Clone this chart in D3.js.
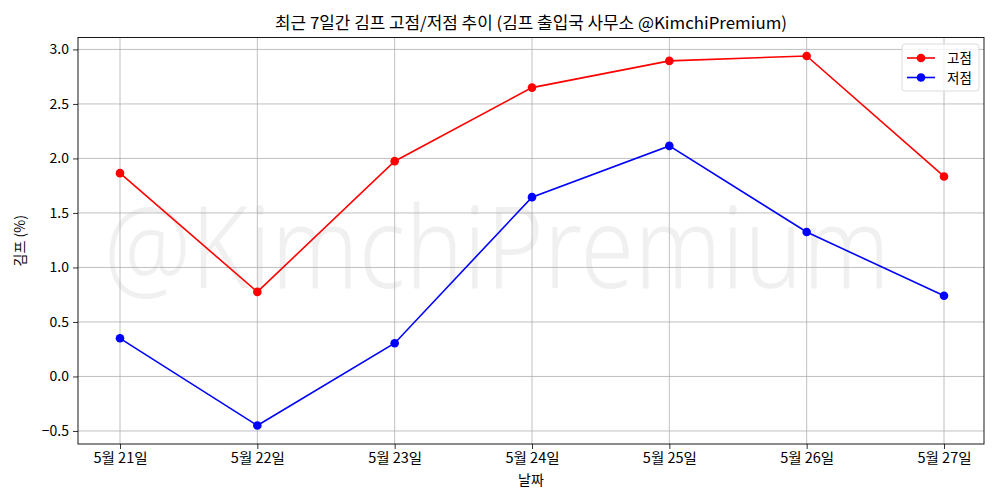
<!DOCTYPE html>
<html><head><meta charset="utf-8">
<script src="https://cdn.jsdelivr.net/npm/d3@7/dist/d3.min.js"></script>
<style>
body{margin:0;background:#fff;}
text{font-family:"Noto Sans CJK KR","Noto Sans",sans-serif;}
</style></head>
<body><svg id="c" width="1000" height="500"></svg>
<script>
const dates = ["5월 21일","5월 22일","5월 23일","5월 24일","5월 25일","5월 26일","5월 27일"];
const highs = [1.865, 0.776, 1.975, 2.65, 2.895, 2.94, 1.835];
const lows  = [0.35, -0.45, 0.305, 1.645, 2.115, 1.325, 0.74];
const yTicks = [-0.5, 0.0, 0.5, 1.0, 1.5, 2.0, 2.5, 3.0];
const seriesNames = ["고점","저점"];
const seriesColors = ["#ff0000","#0000ff"];
const title = "최근 7일간 김프 고점/저점 추이 (김프 출입국 사무소 @KimchiPremium)";
const watermark = "@KimchiPremium";

const svg = d3.select("#c");
const L=78, R=984, T=37.5, B=444;
const allV = highs.concat(lows);
const mn = d3.min(allV), mx = d3.max(allV), pad=(mx-mn)*0.05;
const x = d3.scalePoint().domain(dates).range([120,944]);
const y = d3.scaleLinear().domain([mn-pad, mx+pad]).range([B,T]);

// watermark
const wm = svg.append("text").attr("text-anchor","middle")
  .attr("font-size",114).attr("fill","#000").attr("fill-opacity",0.06)
  .style("font-family","'Noto Sans','DejaVu Sans',sans-serif").style("font-weight",300)
  .text(watermark);
const wl = wm.node().getComputedTextLength();
wm.attr("transform",`translate(497,288) scale(${786/wl},1)`);

// grid
const g = svg.append("g");
g.selectAll(".gx").data(dates).enter().append("line")
  .attr("x1",d=>x(d)).attr("x2",d=>x(d)).attr("y1",T).attr("y2",B)
  .attr("stroke","#b0b0b0").attr("stroke-width",0.8);
g.selectAll(".gy").data(yTicks).enter().append("line")
  .attr("y1",d=>y(d)).attr("y2",d=>y(d)).attr("x1",L).attr("x2",R)
  .attr("stroke","#b0b0b0").attr("stroke-width",0.8);

// axes
const fmt = d => (d<0?"\u2212":"")+Math.abs(d).toFixed(1);
const ax = svg.append("g").attr("transform",`translate(0,${B})`)
  .call(d3.axisBottom(x).tickSize(5).tickPadding(4));
const ay = svg.append("g").attr("transform",`translate(${L},0)`)
  .call(d3.axisLeft(y).tickValues(yTicks).tickFormat(fmt).tickSize(5).tickPadding(4));
[ax,ay].forEach(a=>{a.select(".domain").remove();
  a.selectAll("text").attr("font-size",14).attr("fill","#000").style("font-family","'Noto Sans CJK KR',sans-serif");
  a.selectAll("line").attr("stroke","#000").attr("stroke-width",0.8);});
ax.selectAll("text").attr("textLength",54).attr("lengthAdjust","spacingAndGlyphs");

svg.append("rect").attr("x",L).attr("y",T).attr("width",R-L).attr("height",B-T)
  .attr("fill","none").attr("stroke","#000").attr("stroke-width",0.9);

// series
const line = d3.line().x((d,i)=>x(dates[i])).y(d=>y(d));
[highs,lows].forEach((s,k)=>{
  svg.append("path").attr("d",line(s)).attr("fill","none")
    .attr("stroke",seriesColors[k]).attr("stroke-width",1.6);
  svg.selectAll(".p"+k).data(s).enter().append("circle")
    .attr("cx",(d,i)=>x(dates[i])).attr("cy",d=>y(d)).attr("r",4.3)
    .attr("fill",seriesColors[k]);
});

// legend
const lg = svg.append("g");
lg.append("rect").attr("x",902).attr("y",44).attr("width",77).attr("height",47)
  .attr("rx",3).attr("fill","#fff").attr("fill-opacity",0.8).attr("stroke","#d8d8d8").attr("stroke-width",0.9);
seriesNames.forEach((n,k)=>{
  const yy = 58 + k*19.5;
  lg.append("line").attr("x1",907).attr("x2",935).attr("y1",yy).attr("y2",yy)
    .attr("stroke",seriesColors[k]).attr("stroke-width",1.6);
  lg.append("circle").attr("cx",921).attr("cy",yy).attr("r",4.3).attr("fill",seriesColors[k]);
  lg.append("text").attr("x",947).attr("y",yy+5).attr("font-size",13.5).text(n);
});

// title & labels
svg.append("text").attr("x",(L+R)/2).attr("y",29).attr("text-anchor","middle")
  .attr("font-size",16.5).attr("textLength",512).attr("lengthAdjust","spacingAndGlyphs").text(title);
svg.append("text").attr("x",(L+R)/2).attr("y",485).attr("text-anchor","middle")
  .attr("font-size",14).text("날짜");
svg.append("text").attr("transform",`translate(25,${(T+B)/2}) rotate(-90)`).attr("text-anchor","middle")
  .attr("font-size",14).text("김프 (%)");
</script></body></html>
